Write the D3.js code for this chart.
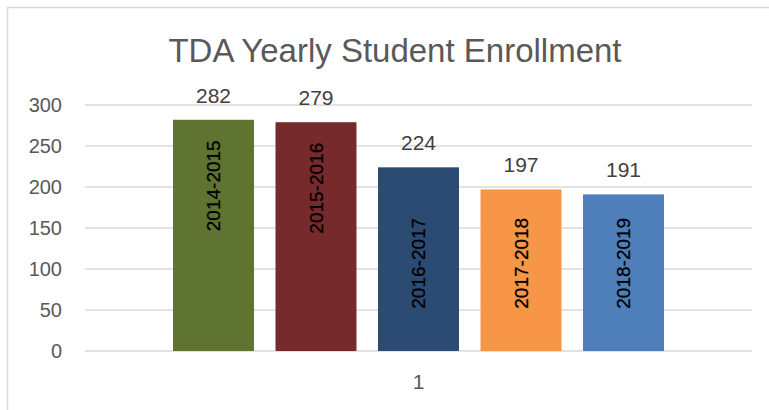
<!DOCTYPE html>
<html>
<head>
<meta charset="utf-8">
<script src="https://cdn.jsdelivr.net/npm/d3@7"></script>
<style>
  body { margin: 0; background: #fff; }
  text { font-family: "Liberation Sans", Arial, sans-serif; }
</style>
</head>
<body>
<div id="chart"></div>
<script>
const groups = ["1"];
const seasons = ["2014-2015", "2015-2016", "2016-2017", "2017-2018", "2018-2019"];
const enrollment = [282, 279, 224, 197, 191];
const barColors = ["#607431", "#772a2b", "#2c4b73", "#f79646", "#4f7fbb"];
const yTicks = [0, 50, 100, 150, 200, 250, 300];

const width = 769, height = 410;
const margin = {top: 105, right: 17, bottom: 59, left: 85};

const svg = d3.select("#chart").append("svg")
    .attr("width", width)
    .attr("height", height);

svg.append("rect")
    .attr("width", width).attr("height", height)
    .attr("fill", "#fff");

// chart frame, runs off the right and bottom of the picture
svg.append("rect")
    .attr("x", 7.5).attr("y", 7.5)
    .attr("width", width + 20).attr("height", height + 20)
    .attr("fill", "none")
    .attr("stroke", "#d9d9d9")
    .attr("stroke-width", 1.5);

svg.append("text")
    .attr("x", 395).attr("y", 62)
    .attr("text-anchor", "middle")
    .attr("fill", "#595959")
    .style("font-size", "33px")
    .text("TDA Yearly Student Enrollment");

const x0 = d3.scaleBand()
    .domain(groups)
    .range([margin.left, width - margin.right])
    .paddingOuter(0.1507);

const x1 = d3.scaleBand()
    .domain(seasons)
    .range([0, x0.bandwidth()])
    .paddingInner(0.21)
    .paddingOuter(0.105);

const y = d3.scaleLinear()
    .domain([0, 300])
    .range([height - margin.bottom, margin.top]);

// gridlines
svg.append("g")
    .selectAll("line")
    .data(yTicks)
    .join("line")
    .attr("x1", margin.left).attr("x2", width - margin.right)
    .attr("y1", d => y(d)).attr("y2", d => y(d))
    .attr("stroke", "#d9d9d9")
    .attr("stroke-width", 1.5);

const yAxis = svg.append("g")
    .attr("transform", "translate(" + margin.left + ",0)")
    .call(d3.axisLeft(y).tickValues(yTicks).tickSize(0).tickPadding(23));
yAxis.select(".domain").remove();
yAxis.selectAll("text")
    .attr("fill", "#595959")
    .style("font-size", "20px");

const xAxis = svg.append("g")
    .attr("transform", "translate(0," + (height - margin.bottom) + ")")
    .call(d3.axisBottom(x0).tickSize(0).tickPadding(23));
xAxis.select(".domain").remove();
xAxis.selectAll("text")
    .attr("fill", "#595959")
    .style("font-size", "21px");

const data = seasons.map((s, i) => ({season: s, value: enrollment[i], color: barColors[i]}));

const g = svg.append("g")
    .attr("transform", "translate(" + x0("1") + ",0)");

g.selectAll("rect")
    .data(data)
    .join("rect")
    .attr("x", d => x1(d.season))
    .attr("width", x1.bandwidth())
    .attr("y", d => y(d.value))
    .attr("height", d => y(0) - y(d.value))
    .attr("fill", d => d.color);

// value labels above bars
g.selectAll("text.val")
    .data(data)
    .join("text")
    .attr("class", "val")
    .attr("x", d => x1(d.season) + x1.bandwidth() / 2)
    .attr("y", d => y(d.value) - 17)
    .attr("text-anchor", "middle")
    .attr("fill", "#404040")
    .style("font-size", "21px")
    .text(d => d.value);

// rotated season names inside bars (tall bars keep them near the top)
const labelY = d => d.value > 250 ? y(d.value) + 66 : y(107);
g.selectAll("text.name")
    .data(data)
    .join("text")
    .attr("class", "name")
    .attr("transform", d => "translate(" + (x1(d.season) + x1.bandwidth() / 2) + "," + labelY(d) + ") rotate(-90)")
    .attr("text-anchor", "middle")
    .attr("dy", "0.35em")
    .attr("fill", "#000")
    .style("font-size", "19px")
    .style("text-shadow", "0 0 1px rgba(0,0,0,0.5)")
    .text(d => d.season);
</script>
</body>
</html>
